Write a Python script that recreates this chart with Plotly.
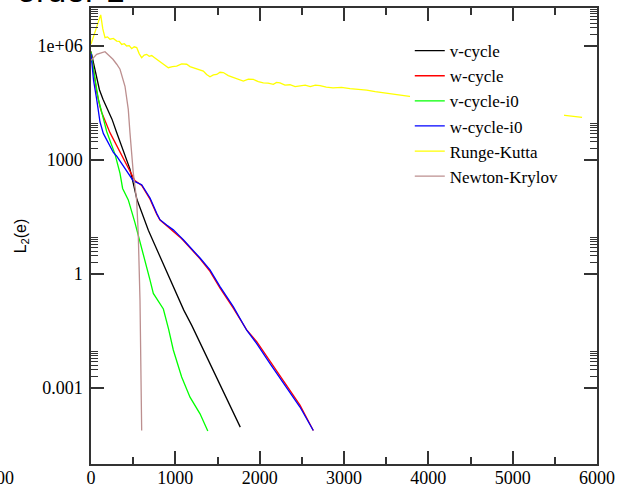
import plotly.graph_objects as go

# ---------------- data ----------------
vcycle_x = [0, 40, 67, 100, 142, 200, 250, 300, 344, 400, 462, 500, 545, 600, 680, 760, 850, 950,
            1050, 1100, 1196, 1300, 1400, 1494, 1600, 1700, 1770]
vcycle_y = [7.08e5, 2.82e5, 1.35e5, 7.08e4, 3.98e4, 2.14e4, 1.17e4, 5.62e3, 2.95e3, 1.32e3, 575, 251,
            91.2, 42.7, 14.1, 5.62, 2.0, 0.631, 0.2, 0.112, 0.0437, 0.0141, 4.79e-3, 1.78e-3,
            5.62e-4, 1.91e-4, 9.33e-5]

wcycle_x = [0, 28, 67, 107, 127, 225, 265, 344, 423, 480, 520, 601, 680, 700, 779, 818, 897, 976,
            1055, 1095, 1293, 1411, 1530, 1687, 1846, 1965, 2063, 2123, 2280, 2478, 2636]
wcycle_y = [7.08e5, 2.40e5, 6.31e4, 2.51e4, 1.78e4, 5.25e3, 3.55e3, 1.58e3, 708, 398, 288, 214, 115,
            93.3, 37.2, 26.3, 18.6, 13.5, 9.33, 7.59, 2.51, 1.17, 0.427, 0.126, 0.0339, 0.0166,
            7.94e-3, 5.25e-3, 1.58e-3, 3.55e-4, 7.59e-5]

vcycle_i0_x = [0, 28, 87, 186, 285, 344, 375, 442, 521, 601, 700, 739, 800, 858, 920, 976, 1075,
               1174, 1293, 1385]
vcycle_i0_y = [7.08e5, 2.51e5, 3.98e4, 5.62e3, 1.41e3, 447, 178, 89.1, 22.4, 5.01, 0.692, 0.309,
               0.191, 0.120, 0.0355, 0.01, 1.95e-3, 5.75e-4, 2.09e-4, 7.41e-5]

wcycle_i0_x = [0, 30, 67, 107, 146, 186, 265, 305, 420, 502, 601, 680, 700, 779, 818, 897, 976,
               1055, 1095, 1293, 1411, 1530, 1687, 1846, 1965, 2123, 2280, 2478, 2636]
wcycle_i0_y = [6.31e5, 1.26e5, 3.98e4, 1.0e4, 5.01e3, 3.47e3, 1.58e3, 1.26e3, 525, 282, 224, 123,
               100, 39.8, 26.9, 19.5, 14.5, 9.77, 7.94, 2.63, 1.29, 0.468, 0.138, 0.0331, 0.0148,
               4.37e-3, 1.32e-3, 3.16e-4, 7.59e-5]

rk_x = [0, 60, 115, 140, 166, 195, 225, 265, 305, 335, 364, 395, 423, 453, 483, 512, 542, 571, 601,
        631, 661, 690, 720, 750, 779, 818, 857, 887, 917, 966, 1016, 1075, 1135, 1174, 1213, 1272,
        1332, 1371, 1411, 1451, 1491, 1530, 1569, 1628, 1687, 1746, 1806, 1866, 1925, 1984, 2043,
        2100, 2162, 2200, 2241, 2300, 2360, 2420, 2478, 2540, 2600, 2660, 2716, 2790, 2870, 2970,
        3071, 3170, 3269, 3370, 3466, 3590, 3723, 4020, 4376, 4731, 5087, 5443, 5716, 5823]
rk_y = [1.12e6, 2.82e6, 6.61e6, 2.82e6, 1.66e6, 1.74e6, 1.51e6, 1.58e6, 1.35e6, 1.32e6, 1.10e6,
        1.15e6, 1.00e6, 1.02e6, 8.51e5, 9.55e5, 9.12e5, 6.31e5, 4.90e5, 5.75e5, 6.03e5, 5.37e5,
        5.62e5, 5.01e5, 4.47e5, 3.98e5, 3.31e5, 3.09e5, 2.69e5, 2.88e5, 2.95e5, 3.39e5, 3.31e5,
        2.88e5, 2.69e5, 2.51e5, 2.19e5, 1.78e5, 1.55e5, 1.74e5, 1.78e5, 2.04e5, 2.00e5, 1.66e5,
        1.48e5, 1.32e5, 1.20e5, 1.35e5, 1.32e5, 1.15e5, 1.07e5, 1.05e5, 9.77e4, 1.10e5, 1.07e5,
        9.33e4, 9.55e4, 8.51e4, 8.71e4, 9.33e4, 8.51e4, 9.33e4, 9.12e4, 8.32e4, 7.94e4, 8.13e4,
        7.59e4, 7.41e4, 6.92e4, 6.31e4, 5.89e4, 5.25e4, 4.79e4, 3.89e4, 3.09e4, 2.57e4, 2.00e4,
        1.66e4, 1.38e4, 1.32e4]

nk_x = [0, 67, 166, 260, 305, 344, 403, 442, 462, 482, 501, 541, 560, 581, 601]
nk_y = [4.17e5, 6.03e5, 7.08e5, 4.47e5, 3.31e5, 2.45e5, 8.71e4, 2.14e4, 5.25e3, 1.55e3, 468, 89.1,
        12.0, 0.204, 7.59e-5]

series_names = ["v-cycle", "w-cycle", "v-cycle-i0", "w-cycle-i0", "Runge-Kutta", "Newton-Krylov"]
series_colors = ["#000000", "#ff0000", "#00ff00", "#0000ff", "#ffff00", "#bc8f8f"]

x_tick_vals = [0, 1000, 2000, 3000, 4000, 5000, 6000]
x_tick_text = ["0", "1000", "2000", "3000", "4000", "5000", "6000"]
y_tick_vals = [1e-3, 1, 1e3, 1e6]
y_tick_text = ["0.001", "1", "1000", "1e+06"]

# ---------------- figure ----------------
xs = [vcycle_x, wcycle_x, vcycle_i0_x, wcycle_i0_x, rk_x, nk_x]
ys = [vcycle_y, wcycle_y, vcycle_i0_y, wcycle_i0_y, rk_y, nk_y]

fig = go.Figure()
for name, col, x, y in zip(series_names, series_colors, xs, ys):
    fig.add_trace(go.Scatter(x=x, y=y, mode="lines", name=name,
                             line=dict(color=col, width=1.3)))

y_minor = [m * b for b in (1e-3, 1, 1e3, 1e6) for m in range(2, 10)]

axis_col = "#333333"
serif = "Liberation Serif"

fig.update_layout(
    width=623, height=487,
    margin=dict(l=91, r=26, t=8, b=23),
    paper_bgcolor="white", plot_bgcolor="white",
    showlegend=True,
    legend=dict(x=0.630, y=0.945, xanchor="left", yanchor="top",
                bgcolor="white", borderwidth=0,
                font=dict(family=serif, size=17, color="black")),
    xaxis=dict(range=[0, 6000], tickmode="array", tickvals=x_tick_vals, ticktext=x_tick_text,
               automargin=False,
               ticks="inside", ticklen=13, tickwidth=1.5, tickcolor=axis_col,
               showline=True, linecolor=axis_col, linewidth=1.5, mirror="ticks",
               showgrid=False, zeroline=False, ticklabelstandoff=-3,
               tickfont=dict(family=serif, size=18, color="black"),
               minor=dict(dtick=500, ticks="inside", ticklen=7, tickwidth=1.5,
                          tickcolor=axis_col, showgrid=False)),
    yaxis=dict(type="log", range=[-5, 7], tickmode="array", tickvals=y_tick_vals,
               ticktext=y_tick_text, automargin=False,
               ticks="inside", ticklen=13, tickwidth=1.5, tickcolor=axis_col,
               showline=True, linecolor=axis_col, linewidth=1.5, mirror="ticks",
               showgrid=False, zeroline=False, ticklabelstandoff=3,
               tickfont=dict(family=serif, size=18, color="black"),
               title=dict(text="L<sub>2</sub>(e)", standoff=7,
                          font=dict(family="Liberation Sans", size=16, color="black")),
               minor=dict(tickmode="array", tickvals=y_minor, ticks="inside", ticklen=7,
                          tickwidth=1.2, tickcolor=axis_col, showgrid=False)),
    annotations=[
        dict(text="order 1", xref="paper", yref="paper", x=-0.150, y=0.994,
             xanchor="left", yanchor="bottom", showarrow=False,
             font=dict(family="Liberation Sans", size=34, color="black")),
        dict(text="6000", xref="paper", yref="paper", x=-0.148, y=-0.031,
             xanchor="right", yanchor="middle", showarrow=False,
             font=dict(family=serif, size=18, color="black")),
    ],
)

fig.write_html("out.html", config={"displayModeBar": False},
               post_script="document.body.style.margin='0';document.body.style.overflow='hidden';")
